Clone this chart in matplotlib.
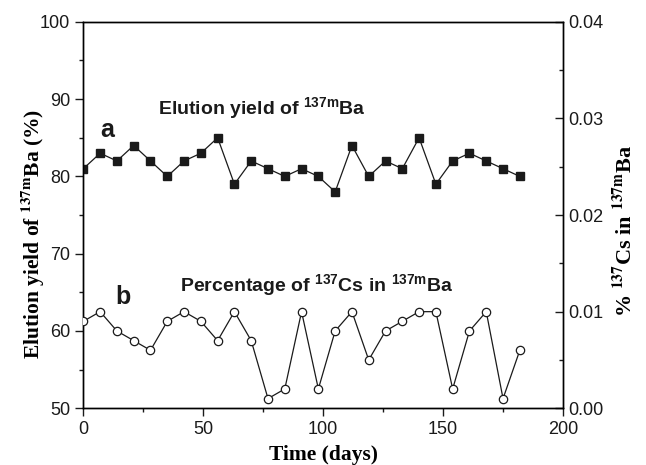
import matplotlib
matplotlib.use('Agg')
import matplotlib.pyplot as plt
from matplotlib.ticker import MultipleLocator, FormatStrFormatter

# sampling days (weekly)
days = [0, 7, 14, 21, 28, 35, 42, 49, 56, 63, 70, 77, 84, 91, 98,
        105, 112, 119, 126, 133, 140, 147, 154, 161, 168, 175, 182]

# a: elution yield of 137mBa (%)
yield_pct = [81, 83, 82, 84, 82, 80, 82, 83, 85, 79, 82, 81, 80, 81, 80,
             78, 84, 80, 82, 81, 85, 79, 82, 83, 82, 81, 80]

# b: % 137Cs breakthrough in 137mBa
cs_pct = [0.009, 0.010, 0.008, 0.007, 0.006, 0.009, 0.010, 0.009, 0.007,
          0.010, 0.007, 0.001, 0.002, 0.010, 0.002, 0.008, 0.010, 0.005,
          0.008, 0.009, 0.010, 0.010, 0.002, 0.008, 0.010, 0.001, 0.006]

FG = '#1a1a1a'

plt.rcParams.update({
    'font.family': ['Liberation Sans', 'DejaVu Sans'],
    'font.size': 11,
    'mathtext.fontset': 'custom',
    'mathtext.rm': 'Liberation Sans',
    'mathtext.bf': 'Liberation Sans:bold',
    'axes.linewidth': 1.0,
})

fig = plt.figure(figsize=(6.46, 4.65), dpi=100)
ax = fig.add_axes([0.129, 0.122, 0.7425, 0.831])
ax2 = ax.twinx()

ax.plot(days, yield_pct, color=FG, lw=0.9, marker='s', ms=5.2,
        mfc=FG, mec=FG, zorder=3)
ax2.plot(days, cs_pct, color=FG, lw=0.9, marker='o', ms=6,
         mfc='white', mec=FG, mew=0.9, zorder=3)

ax.set_xlim(0, 200)
ax.set_ylim(50, 100)
ax2.set_ylim(0, 0.04)

ax.xaxis.set_major_locator(MultipleLocator(50))
ax.xaxis.set_minor_locator(MultipleLocator(25))
ax.yaxis.set_major_locator(MultipleLocator(10))
ax.yaxis.set_minor_locator(MultipleLocator(5))
ax2.yaxis.set_major_locator(MultipleLocator(0.01))
ax2.yaxis.set_minor_locator(MultipleLocator(0.005))
ax2.yaxis.set_major_formatter(FormatStrFormatter('%.2f'))

ax.tick_params(axis='x', which='both', direction='out', top=False, colors=FG)
ax.tick_params(axis='y', which='both', direction='out', right=False, colors=FG)
ax.tick_params(which='major', length=6, width=1.0, labelsize=13)
ax.tick_params(which='minor', length=3, width=1.0)
ax2.tick_params(axis='y', which='both', direction='in', colors=FG)
ax2.tick_params(which='major', length=6, width=1.0, labelsize=13)
ax2.tick_params(which='minor', length=3, width=1.0)

ax.set_xlabel('Time (days)', family='Liberation Serif', weight='bold',
              fontsize=15.5, labelpad=5)
ax.set_ylabel(r'Elution yield of $^{\mathbf{137m}}$Ba (%)', family='Liberation Serif',
              weight='bold', fontsize=15.5, math_fontfamily='stix', va='center')
ax.yaxis.set_label_coords(-0.105, 0.45)
ax2.set_ylabel(r'% $^{\mathbf{137}}$Cs in $^{\mathbf{137m}}$Ba', family='Liberation Serif',
               weight='bold', fontsize=16, math_fontfamily='stix', va='center')
ax2.yaxis.set_label_coords(1.13, 0.459)

ax.text(31, 87.9, r'Elution yield of $^{\mathbf{137m}}$Ba', weight='bold',
        fontsize=14, color=FG, ha='left', va='baseline')
ax.text(7, 85.1, 'a', weight='bold', fontsize=18, color=FG, ha='left', va='baseline')
ax.text(40.4, 65.07, r'Percentage of $^{\mathbf{137}}$Cs in $^{\mathbf{137m}}$Ba',
        weight='bold', fontsize=14, color=FG, ha='left', va='baseline')
ax.text(13.2, 63.5, 'b', weight='bold', fontsize=18, color=FG, ha='left', va='baseline')

fig.savefig('out.png', dpi=100)
